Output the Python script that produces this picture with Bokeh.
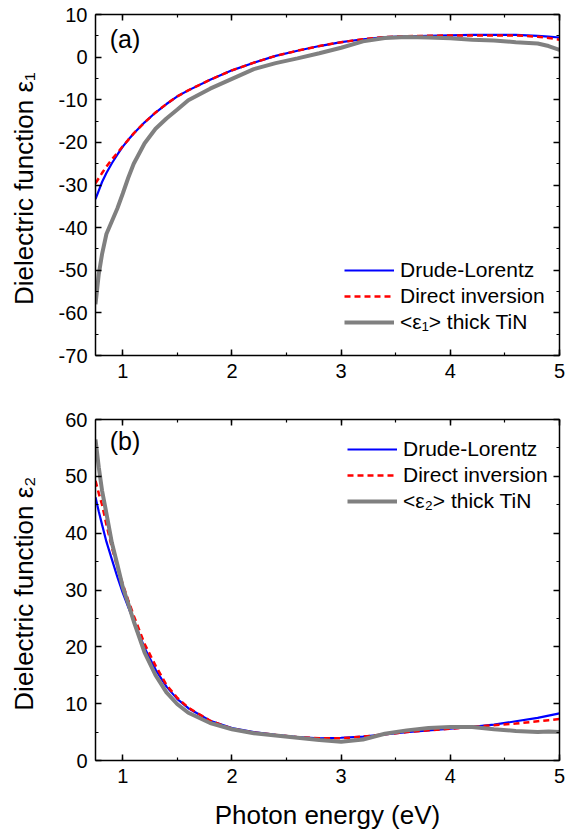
from bokeh.plotting import figure
from bokeh.layouts import column
from bokeh.models import (LinearAxis, SingleIntervalTicker, Legend, LegendItem, Label, Range1d,
                          PrintfTickFormatter, CustomJSTickFormatter)
from bokeh.embed import file_html
from bokeh.resources import INLINE

# ---------------- data ----------------
energy = [0.75, 0.78, 0.81, 0.85, 0.9, 0.95, 1.0, 1.05, 1.1, 1.2, 1.3, 1.4, 1.5, 1.6,
          1.8, 2.0, 2.2, 2.4, 2.6, 2.8, 3.0, 3.2, 3.4, 3.6, 3.8, 4.0, 4.2, 4.4, 4.6,
          4.8, 4.9, 5.0]

eps1_drude = [-33.3, -31.3, -29.3, -27.2, -24.9, -22.9, -21.0, -19.4, -17.9, -15.3, -13.0,
              -11.0, -9.2, -7.8, -5.3, -3.1, -1.3, 0.3, 1.5, 2.6, 3.5, 4.2, 4.7, 4.9, 5.0,
              5.1, 5.2, 5.2, 5.2, 5.0, 4.8, 4.6]
eps1_inversion = [-29.6, -28.4, -27.2, -25.7, -24.0, -22.5, -20.9, -19.4, -17.9, -15.3, -13.0,
                  -11.0, -9.2, -7.8, -5.3, -3.1, -1.3, 0.3, 1.5, 2.6, 3.5, 4.2, 4.7, 4.9, 5.0,
                  5.1, 5.1, 5.1, 5.1, 4.8, 4.5, 4.1]
eps1_thick = [-58.0, -50.9, -46.2, -41.5, -38.5, -35.5, -32.0, -28.3, -25.0, -20.2, -16.8,
              -14.4, -12.3, -10.1, -7.4, -5.1, -2.8, -1.4, -0.3, 0.9, 2.2, 3.7, 4.5, 4.7, 4.6,
              4.4, 4.1, 3.9, 3.5, 3.2, 2.6, 1.7]

eps2_drude = [46.3, 43.8, 41.5, 38.5, 35.4, 32.3, 29.5, 27.0, 24.6, 19.8, 16.0, 13.0, 10.8,
              9.2, 7.0, 5.7, 5.0, 4.5, 4.1, 3.9, 4.0, 4.2, 4.6, 5.0, 5.3, 5.6, 5.9, 6.3, 6.9,
              7.5, 7.9, 8.3]
eps2_inversion = [49.2, 47.0, 45.0, 41.5, 37.5, 34.0, 31.0, 28.2, 25.5, 20.5, 16.7, 13.3, 11.0,
                  9.3, 7.0, 5.6, 4.9, 4.5, 4.1, 3.9, 3.9, 4.2, 4.6, 5.0, 5.3, 5.6, 5.9, 6.2,
                  6.5, 6.9, 7.1, 7.3]
eps2_thick = [56.5, 51.6, 47.5, 43.5, 38.3, 34.5, 30.5, 27.6, 24.5, 19.0, 15.0, 12.0, 9.9, 8.4,
              6.6, 5.5, 4.8, 4.4, 4.0, 3.6, 3.3, 3.7, 4.7, 5.3, 5.7, 5.9, 5.9, 5.5, 5.2, 5.0,
              5.1, 5.0]

x_ticks = [1, 2, 3, 4, 5]
series_labels = ["Drude-Lorentz", "Direct inversion"]
thick_labels = ["<ε\u2081> thick TiN", "<ε\u2082> thick TiN"]
panel_tags = ["(a)", "(b)"]
y_titles = ["Dielectric function  ε\u2081", "Dielectric function  ε\u2082"]

FONT = "Liberation Sans"


def style_axis(ax, show_labels=True):
    ax.axis_line_width = 1.5
    ax.axis_line_color = "black"
    ax.major_tick_in = 6
    ax.major_tick_out = 0
    ax.minor_tick_in = 3
    ax.minor_tick_out = 0
    ax.major_tick_line_width = 1.5
    ax.minor_tick_line_width = 1.2
    ax.major_label_text_font = FONT
    ax.major_label_text_font_size = "20px"
    ax.major_label_text_color = "black"
    ax.major_label_standoff = 8
    ax.axis_label_text_font = FONT
    ax.axis_label_text_font_style = "normal"
    ax.axis_label_text_font_size = "26px"
    ax.axis_label_text_color = "black"
    if show_labels:
        ax.formatter = PrintfTickFormatter(format="%d")
    else:
        ax.formatter = CustomJSTickFormatter(code="return '';")
        ax.major_label_standoff = 0


def make_panel(y_lo, y_hi, y_step, xs, d, inv, thick, thick_label, tag, tag_y, ytitle,
               height, top_border, bottom_border, xlabel, legend_loc, ylabel_standoff):
    p = figure(width=567, height=height, output_backend="svg", toolbar_location=None,
               x_range=Range1d(0.75, 5.0), y_range=Range1d(y_lo, y_hi),
               min_border_left=95, min_border_right=8, min_border_top=top_border,
               min_border_bottom=bottom_border, x_axis_type=None, y_axis_type=None)
    p.grid.visible = False
    p.outline_line_color = None
    p.background_fill_color = "white"
    p.border_fill_color = "white"

    xt = SingleIntervalTicker(interval=1, num_minor_ticks=2)
    yt = SingleIntervalTicker(interval=y_step, num_minor_ticks=2)
    xb = LinearAxis(ticker=xt)
    style_axis(xb)
    if xlabel:
        xb.axis_label = xlabel
        xb.axis_label_standoff = 14
    p.add_layout(xb, "below")
    xa = LinearAxis(ticker=xt)
    style_axis(xa, show_labels=False)
    p.add_layout(xa, "above")
    yl = LinearAxis(ticker=yt, axis_label=ytitle)
    style_axis(yl)
    yl.axis_label_standoff = ylabel_standoff
    p.add_layout(yl, "left")
    yr = LinearAxis(ticker=yt)
    style_axis(yr, show_labels=False)
    p.add_layout(yr, "right")

    r1 = p.line(xs, d, line_color="#0000FF", line_width=2.2)
    r2 = p.line(xs, inv, line_color="#FF0000", line_width=2.5, line_dash="6 4")
    r3 = p.line(xs, thick, line_color="#808080", line_width=4)

    leg = Legend(items=[LegendItem(label=series_labels[0], renderers=[r1]),
                        LegendItem(label=series_labels[1], renderers=[r2]),
                        LegendItem(label=thick_label, renderers=[r3])],
                 location=legend_loc, glyph_width=50, glyph_height=26, label_height=26,
                 spacing=0, padding=0, margin=0, label_standoff=6,
                 label_text_font=FONT, label_text_font_size="21px",
                 label_text_color="black",
                 border_line_alpha=0, background_fill_alpha=0)
    p.add_layout(leg)

    p.add_layout(Label(x=0.88, y=tag_y, text=tag, text_font=FONT, text_font_size="25px",
                       text_baseline="middle", text_align="left", text_color="black"))
    return p


p1 = make_panel(-70, 10, 10, energy, eps1_drude, eps1_inversion, eps1_thick, thick_labels[0],
                panel_tags[0], 4.3, y_titles[0], 400, 14, 45, None, (249, 20), 17)
p2 = make_panel(0, 60, 10, energy, eps2_drude, eps2_inversion, eps2_thick, thick_labels[1],
                panel_tags[1], 56.2, y_titles[1], 438, 19, 78, "Photon energy (eV)", (252, 246), 23)

layout = column(p1, p2, spacing=0)
open("out.html", "w").write(file_html(layout, INLINE))
